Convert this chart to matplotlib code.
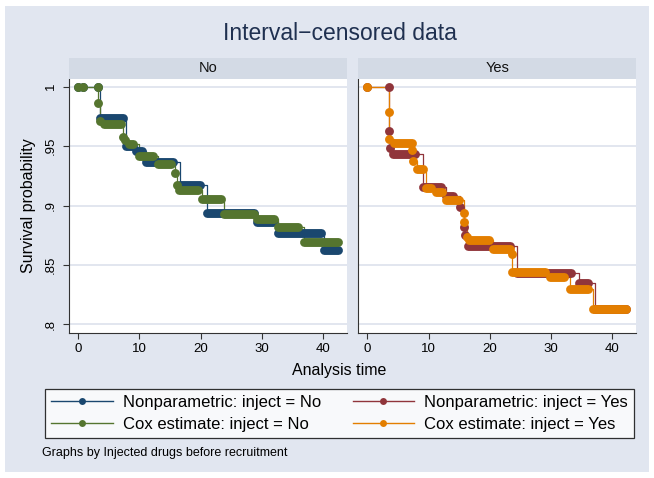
import matplotlib
matplotlib.use("Agg")
import matplotlib.pyplot as plt
from matplotlib.lines import Line2D
from matplotlib.patches import Rectangle

plt.rcParams['font.family'] = ['Liberation Sans', 'DejaVu Sans']

# step estimates, one entry per flat run: (start time, end time, survival)
# a run with start == end is a single dot
np_no_start = [0, 0.8, 3.3, 3.5, 7.9, 9.4, 11.1, 16.6, 21.1, 29.3, 32.7, 40.2]
np_no_end = [0, 0.8, 3.3, 7.3, 8.9, 10.5, 15.5, 19.9, 28.8, 31.9, 39.7, 42.4]
np_no_surv = [1.0, 1.0, 1.0, 0.9735, 0.9505, 0.9455, 0.937, 0.917, 0.894, 0.886, 0.8766, 0.8625]

cox_no_start = [0, 0.8, 3.3, 3.3, 3.6, 4.3, 7.4, 7.7, 8.3, 9.9, 13.0, 15.8, 16.1, 16.5,
                20.2, 23.8, 29.3, 32.7, 37.0]
cox_no_end = [0, 0.8, 3.3, 3.3, 3.6, 7.0, 7.4, 7.7, 9.0, 12.2, 15.2, 15.8, 16.1, 19.6,
              23.4, 28.8, 32.0, 36.0, 42.4]
cox_no_surv = [1.0, 1.0, 1.0, 0.986, 0.9715, 0.969, 0.958, 0.955, 0.952, 0.9415, 0.935,
               0.927, 0.917, 0.913, 0.9055, 0.8926, 0.8886, 0.8822, 0.8695]

np_yes_start = [0, 3.55, 3.6, 3.7, 4.2, 9.1, 12.8, 15.2, 15.7, 15.9, 16.5, 24.4, 34.6, 37.2]
np_yes_end = [0, 3.55, 3.6, 3.7, 7.7, 12.0, 14.0, 15.2, 15.7, 15.9, 23.3, 33.3, 36.1, 42.3]
np_yes_surv = [1.0, 1.0, 0.9627, 0.948, 0.943, 0.9158, 0.908, 0.899, 0.882, 0.875, 0.866,
               0.8435, 0.835, 0.8129]

cox_yes_start = [0, 3.55, 3.6, 4.4, 7.3, 7.5, 8.1, 9.6, 11.2, 12.8, 15.8, 15.8, 16.2, 16.6,
                 20.6, 23.6, 23.7, 29.8, 33.1, 36.8]
cox_yes_end = [0, 3.55, 3.6, 7.2, 7.3, 7.5, 9.0, 10.4, 12.2, 15.0, 15.8, 15.8, 16.2, 19.8,
               23.3, 23.6, 29.0, 32.1, 36.0, 42.3]
cox_yes_surv = [1.0, 0.979, 0.956, 0.9525, 0.9467, 0.9375, 0.9307, 0.915, 0.9116, 0.9046,
                0.8934, 0.886, 0.8737, 0.871, 0.8635, 0.859, 0.8438, 0.8395, 0.8295, 0.8129]

panels = ["No", "Yes"]
yticks = [0.8, 0.85, 0.9, 0.95, 1.0]
ytick_labels = [".8", ".85", ".9", ".95", "1"]
xticks = [0, 10, 20, 30, 40]

navy = '#1A476F'
maroon = '#90353B'
green = '#55752F'
orange = '#E37E00'
bg = '#E1E6F0'
strip_col = '#D3DAE5'

W, H = 654, 478
fig = plt.figure(figsize=(W / 100, H / 100), dpi=100)
fig.patch.set_facecolor('white')
fig.patches.append(Rectangle((5 / W, 6 / H), 1 - 10 / W, 1 - 12 / H, transform=fig.transFigure,
                             facecolor=bg, edgecolor='none', zorder=-10))


def draw_series(ax, starts, ends, surv, color):
    xs, ys = [], []
    for a, b, s in zip(starts, ends, surv):
        xs += [a, b]
        ys += [s, s]
    ax.plot(xs, ys, drawstyle='steps-post', color=color, lw=0.9, zorder=3)
    for a, b, s in zip(starts, ends, surv):
        if a == b:
            ax.plot([a], [s], 'o', color=color, ms=6.4, mew=0, zorder=4)
        else:
            ax.plot([a, b], [s, s], color=color, lw=6.4, solid_capstyle='round', zorder=4)


series = {
    "No": [(np_no_start, np_no_end, np_no_surv, navy),
           (cox_no_start, cox_no_end, cox_no_surv, green)],
    "Yes": [(np_yes_start, np_yes_end, np_yes_surv, maroon),
            (cox_yes_start, cox_yes_end, cox_yes_surv, orange)],
}

lefts = [69, 358.3]
pw = 277.7
for i, name in enumerate(panels):
    x0 = lefts[i]
    ax = fig.add_axes([x0 / W, 1 - 333 / H, pw / W, 254 / H])
    ax.set_facecolor('white')
    for st, en, sv, col in series[name]:
        draw_series(ax, st, en, sv, col)
    ax.set_xlim(-1.5, 43.9)
    ax.set_ylim(0.7927, 1.0065)
    ax.set_yticks(yticks)
    ax.set_xticks(xticks)
    ax.yaxis.grid(True, color='#DFE4EE', lw=1.3, zorder=0)
    ax.set_axisbelow(True)
    for sp in ['top', 'right']:
        ax.spines[sp].set_visible(False)
    ax.spines['left'].set_color('#333333')
    ax.spines['bottom'].set_color('#333333')
    ax.spines['left'].set_linewidth(0.8)
    ax.spines['bottom'].set_linewidth(0.8)
    ax.tick_params(axis='x', length=4.5, width=0.8, color='#333333', pad=3, labelsize=9.5)
    if i == 0:
        ax.set_yticklabels(ytick_labels)
        ax.tick_params(axis='y', length=4.5, width=0.8, color='#333333', pad=4, labelsize=9.5)
        for lab in ax.get_yticklabels():
            lab.set_rotation(90)
            lab.set_va('center')
    else:
        ax.tick_params(axis='y', length=0, labelleft=False)

    sax = fig.add_axes([x0 / W, 1 - 79 / H, pw / W, 21 / H])
    sax.set_facecolor(strip_col)
    sax.set_xticks([])
    sax.set_yticks([])
    for sp in sax.spines.values():
        sp.set_visible(False)
    sax.text(0.5, 0.5, name, ha='center', va='center', fontsize=10.5, color='#111111',
             transform=sax.transAxes)

fig.text(339.5 / W, 1 - 33 / H, "Interval\u2212censored data", ha='center', va='center',
         fontsize=16.5, color='#1F3050')
fig.text(339.5 / W, 1 - 370 / H, "Analysis time", ha='center', va='center', fontsize=11.5)
fig.text(28.3 / W, 1 - 206 / H, "Survival probability", ha='center', va='center',
         rotation=90, fontsize=11.5)

handles = [
    Line2D([], [], color=navy, lw=1, marker='o', ms=5, mew=0),
    Line2D([], [], color=green, lw=1, marker='o', ms=5, mew=0),
    Line2D([], [], color=maroon, lw=1, marker='o', ms=5, mew=0),
    Line2D([], [], color=orange, lw=1, marker='o', ms=5, mew=0),
]
labels = ["Nonparametric: inject = No", "Cox estimate: inject = No",
          "Nonparametric: inject = Yes", "Cox estimate: inject = Yes"]
leg = fig.legend(handles, labels, ncol=2, loc='center',
                 bbox_to_anchor=(339.5 / W, 1 - 413.5 / H), fontsize=12,
                 frameon=True, fancybox=False, handlelength=3.7, handletextpad=0.6,
                 columnspacing=1.9, labelspacing=0.42, borderpad=0.38, borderaxespad=0)
leg.get_frame().set_edgecolor('black')
leg.get_frame().set_linewidth(0.9)
leg.get_frame().set_facecolor('white')

fig.text(42 / W, 1 - 453 / H, "Graphs by Injected drugs before recruitment", ha='left',
         va='center', fontsize=9)

fig.savefig("out.png", dpi=100, facecolor=fig.get_facecolor())
